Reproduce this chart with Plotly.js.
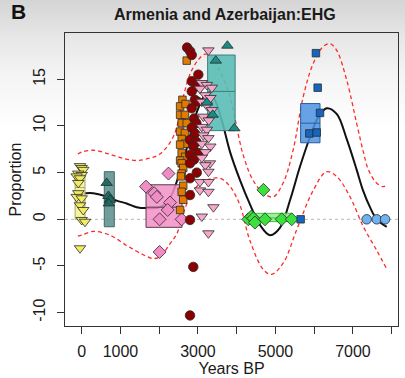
<!DOCTYPE html>
<html><head><meta charset="utf-8">
<script src="https://cdn.plot.ly/plotly-3.0.1.min.js"></script>
<style>
html,body{margin:0;padding:0;}
body{width:405px;height:378px;background:linear-gradient(to bottom,#d4d4d4 0px,#e6e6e6 35px,#f4f4f4 75px,#ffffff 130px);}
#chart{width:405px;height:378px;}
</style></head>
<body><div id="chart"></div>
<script>
// ---- data ----
const yellowX = [-44, 0, 41, -88, 0, -130, -44, -88, -88, -130, 0, -44, 41, 0, 85, -44];
const yellowY = [5.7, 5.5, 5.3, 4.9, 4.75, 4.6, 4.4, 3.9, 2.8, 2.4, 2.25, 1.5, 1.0, -0.07, -0.26, -3.1];

const tealLX = [645, 690, 730, 700];
const tealLY = [3.9, 2.5, 2.1, 1.7];

const pinkDX = [1660, 1870, 1940, 2240, 2280, 2220, 2010, 2580, 2010];
const pinkDY = [3.5, 2.8, 2.4, 4.9, 1.8, 1.0, 0.0, 0.0, -3.5];

const orangeX = [2710, 2600, 2540, 2680, 2540, 2665, 2580, 2710, 2540, 2665, 2580, 2670, 2540, 2580, 2670, 2540, 2580, 2620, 2580, 2560, 2620, 2580, 2620, 2540];
const orangeY = [17.0, 12.8, 12.1, 12.35, 11.2, 11.2, 10.3, 10.3, 9.4, 9.25, 8.6, 8.1, 8.0, 7.1, 6.7, 6.3, 6.0, 5.5, 4.9, 4.6, 3.6, 2.95, 2.1, 1.0];

const redX = [2720, 2800, 2840, 3010, 2840, 2950, 2840, 2920, 2990, 2840, 2900, 2960, 2840, 2925, 2795, 2960, 2880, 2795, 3010, 2900, 2795, 2970, 2795, 2795, 2795, 2880, 2795];
const redY = [18.4, 18.0, 17.6, 15.5, 14.8, 14.2, 13.7, 12.8, 12.6, 11.9, 10.8, 10.3, 9.8, 9.2, 8.5, 8.3, 7.8, 6.9, 7.1, 6.4, 6.0, 5.0, 4.4, 2.6, -0.07, -5.1, -10.3];

const pinkTX = [3270, 3100, 3230, 3360, 3050, 3190, 3320, 3100, 3230, 3360, 3140, 3280, 3100, 3230, 3140, 3270, 3100, 3320, 3190, 3100, 3310, 3190, 3270, 3050, 3270, 3050, 3270, 3400, 3100, 3270];
const pinkTY = [18.1, 14.6, 14.4, 14.1, 14.0, 13.3, 13.0, 12.6, 12.2, 11.7, 11.0, 10.6, 9.9, 9.6, 9.0, 8.7, 8.1, 7.8, 7.2, 6.6, 6.0, 5.8, 5.1, 4.0, 4.0, 3.1, 2.95, 1.3, 0.3, -1.5];

const tealX = [3760, 3460, 3230, 3380, 3940];
const tealY = [18.6, 17.0, 12.5, 11.2, 9.75];

const greenX = [4300, 4380, 4430, 4470, 4730, 5160, 5420, 4690];
const greenY = [0.0, 0.3, 0.1, -0.35, 0.0, 0.0, 0.0, 3.15];

const blueX = [6045, 6090, 6150, 5875, 6065, 5650];
const blueY = [17.8, 14.1, 11.4, 9.2, 9.3, 0.0];

const lblueX = [7355, 7613, 7830];
const lblueY = [0.0, 0.0, 0.0];

// boxes (x extent, lower/upper quartile, median)
const boxXmin = [-170, 583, 1660, 3250, 4345, 5650];
const boxXmax = [85, 841, 2590, 3960, 5420, 6150];
const boxQ1   = [0.0, -0.8, -0.86, 9.5, -0.25, 8.2];
const boxQ3   = [5.1, 5.1, 3.7, 17.6, 0.64, 12.4];
const boxMed  = [3.4, 2.1, 1.3, 13.7, 0.15, 10.3];
const boxFill = ['rgba(246,241,141,0.85)', 'rgba(89,140,140,0.85)', 'rgba(243,144,199,0.85)', 'rgba(91,189,182,0.9)', 'rgba(141,236,141,0.85)', 'rgba(75,147,226,0.85)'];
const boxLine = ['#a8a468', '#3f6868', '#5a3a4a', '#3d7f7b', '#33cc33', '#2a5a9a'];

// fitted curve and confidence band
const fitX = [-100, 100, 300, 600, 900, 1160, 1420, 1660, 2020, 2280, 2450, 2620, 2800, 3000, 3200, 3400, 3600, 3830, 4085, 4343, 4600, 4860, 5120, 5380, 5630, 5900, 6100, 6320, 6580, 6840, 7097, 7260, 7440, 7613, 7871];
const fitY = [2.7, 2.8, 2.8, 2.5, 2.0, 1.7, 1.3, 1.2, 1.3, 2.3, 4.0, 6.2, 9.0, 11.8, 13.3, 13.0, 10.8, 7.2, 4.2, 1.6, -0.6, -1.7, -0.9, 2.1, 5.6, 8.9, 10.9, 11.9, 11.3, 8.6, 5.3, 3.1, 1.3, 0.0, -0.8];

const upX = [-100, 0, 300, 700, 1100, 1420, 1700, 2020, 2370, 2620, 2800, 3010, 3180, 3350, 3525, 3785, 3955, 4160, 4420, 4690, 4940, 5200, 5455, 5715, 5975, 6230, 6410, 6580, 6840, 7100, 7270, 7400, 7610, 7785, 7870];
const upY = [7.0, 7.2, 7.4, 7.0, 6.5, 6.3, 6.5, 7.0, 8.9, 13.1, 15.6, 17.1, 17.7, 17.4, 16.2, 13.7, 10.8, 7.0, 4.2, 2.8, 2.4, 3.9, 7.4, 13.1, 16.7, 18.5, 18.8, 18.1, 14.9, 10.2, 7.2, 5.3, 3.9, 3.5, 3.7];

const loX = [-100, 0, 300, 730, 1160, 1590, 1840, 2020, 2280, 2450, 2620, 2880, 3225, 3570, 3830, 4085, 4343, 4690, 4900, 5200, 5550, 5975, 6320, 6580, 6925, 7270, 7610, 7870];
const loY = [-1.8, -1.7, -1.3, -1.7, -2.8, -3.8, -4.2, -4.0, -2.6, -1.6, 0.6, 3.1, 4.2, 4.4, 3.5, 1.5, -2.3, -5.4, -5.9, -4.7, -1.1, 3.1, 5.1, 4.6, 2.4, -0.8, -3.3, -5.3];

const xTicks = [0, 1000, 2000, 3000, 4000, 5000, 6000, 7000, 8000];
const xTickText = ['0', '1000', '', '3000', '', '5000', '', '7000', ''];
const yTicks = [-10, -5, 0, 5, 10, 15];
const yTickText = ['-10', '-5', '0', '5', '10', '15'];

// ---- traces ----
const traces = [];
traces.push({x: upX, y: upY, mode: 'lines', line: {color: '#ff2a2a', width: 1.3, dash: '4px,3px', shape: 'spline', smoothing: 1}, hoverinfo: 'skip'});
traces.push({x: loX, y: loY, mode: 'lines', line: {color: '#ff2a2a', width: 1.3, dash: '4px,3px', shape: 'spline', smoothing: 1}, hoverinfo: 'skip'});
traces.push({x: fitX, y: fitY, mode: 'lines', line: {color: '#111', width: 2, shape: 'spline', smoothing: 1}, hoverinfo: 'skip'});

for (let i = 0; i < boxXmin.length; i++) {
  traces.push({x: [boxXmin[i], boxXmax[i], boxXmax[i], boxXmin[i], boxXmin[i]],
               y: [boxQ1[i], boxQ1[i], boxQ3[i], boxQ3[i], boxQ1[i]],
               mode: 'lines', fill: 'toself', fillcolor: boxFill[i],
               line: {color: boxLine[i], width: 1}, hoverinfo: 'skip'});
  traces.push({x: [boxXmin[i], boxXmax[i]], y: [boxMed[i], boxMed[i]], mode: 'lines',
               line: {color: boxLine[i], width: 1}, hoverinfo: 'skip'});
}

function pts(x, y, sym, col, size) {
  return {x: x, y: y, mode: 'markers', hoverinfo: 'skip',
          marker: {symbol: sym, color: col, size: size, line: {color: '#2b2b2b', width: 0.8}}};
}
traces.push(pts(yellowX, yellowY, 'triangle-down', '#f2ec62', 10));
traces.push(pts(tealLX, tealLY, 'triangle-up', '#1d6b66', 10));
traces.push(pts(pinkDX, pinkDY, 'diamond', '#f28cc4', 10));
traces.push(pts(orangeX, orangeY, 'square', '#e07b00', 7.5));
traces.push(pts(redX, redY, 'circle', '#8b0000', 9.5));
traces.push(pts(pinkTX, pinkTY, 'triangle-down', '#f6a8cc', 10));
traces.push(pts(tealX, tealY, 'triangle-up', '#1a8c84', 10));
traces.push(pts(greenX, greenY, 'diamond', '#3ce03c', 10));
traces.push(pts(blueX, blueY, 'square', '#1565c0', 7.5));
traces.push(pts(lblueX, lblueY, 'circle', '#6fb2f2', 9.5));

const font = 'Liberation Sans, Arial, sans-serif';
const layout = {
  width: 405, height: 378,
  margin: {l: 65, r: 7, t: 33, b: 52},
  paper_bgcolor: 'rgba(0,0,0,0)', plot_bgcolor: 'rgba(0,0,0,0)',
  showlegend: false,
  font: {family: font, color: '#1a1a1a', size: 16},
  title: {text: '<b>Armenia and Azerbaijan:EHG</b>', font: {family: font, size: 16, color: '#1a1a1a'},
          xref: 'paper', x: 0.48, xanchor: 'center', yref: 'container', y: 0.962, yanchor: 'middle'},
  xaxis: {range: [-431, 8163], tickvals: xTicks, ticktext: xTickText, ticks: 'outside', ticklen: 7,
          tickcolor: '#333', showline: true, mirror: true, linecolor: '#333', linewidth: 1,
          showgrid: false, zeroline: false, ticklabelstandoff: 4,
          title: {text: 'Years BP', font: {family: font, size: 16}, standoff: 2}},
  yaxis: {range: [-11.43, 19.96], tickvals: yTicks, ticktext: yTickText, ticks: 'outside', ticklen: 7, tickangle: -90,
          tickcolor: '#333', showline: true, mirror: true, linecolor: '#333', linewidth: 1,
          showgrid: false, zeroline: false, ticklabelstandoff: 6,
          title: {text: 'Proportion', font: {family: font, size: 16}, standoff: 4}},
  shapes: [{type: 'line', xref: 'paper', x0: 0, x1: 1, yref: 'y', y0: 0, y1: 0,
            line: {color: '#b8b8b8', width: 1, dash: 'dot'}, layer: 'below'}],
  annotations: [{text: '<b>B</b>', xref: 'paper', yref: 'paper', x: -0.141, y: 1.073,
                 xanchor: 'center', yanchor: 'middle', showarrow: false,
                 font: {family: font, size: 21, color: '#111'}}]
};
Plotly.newPlot('chart', traces, layout, {staticPlot: true, displayModeBar: false});
</script>
</body></html>
